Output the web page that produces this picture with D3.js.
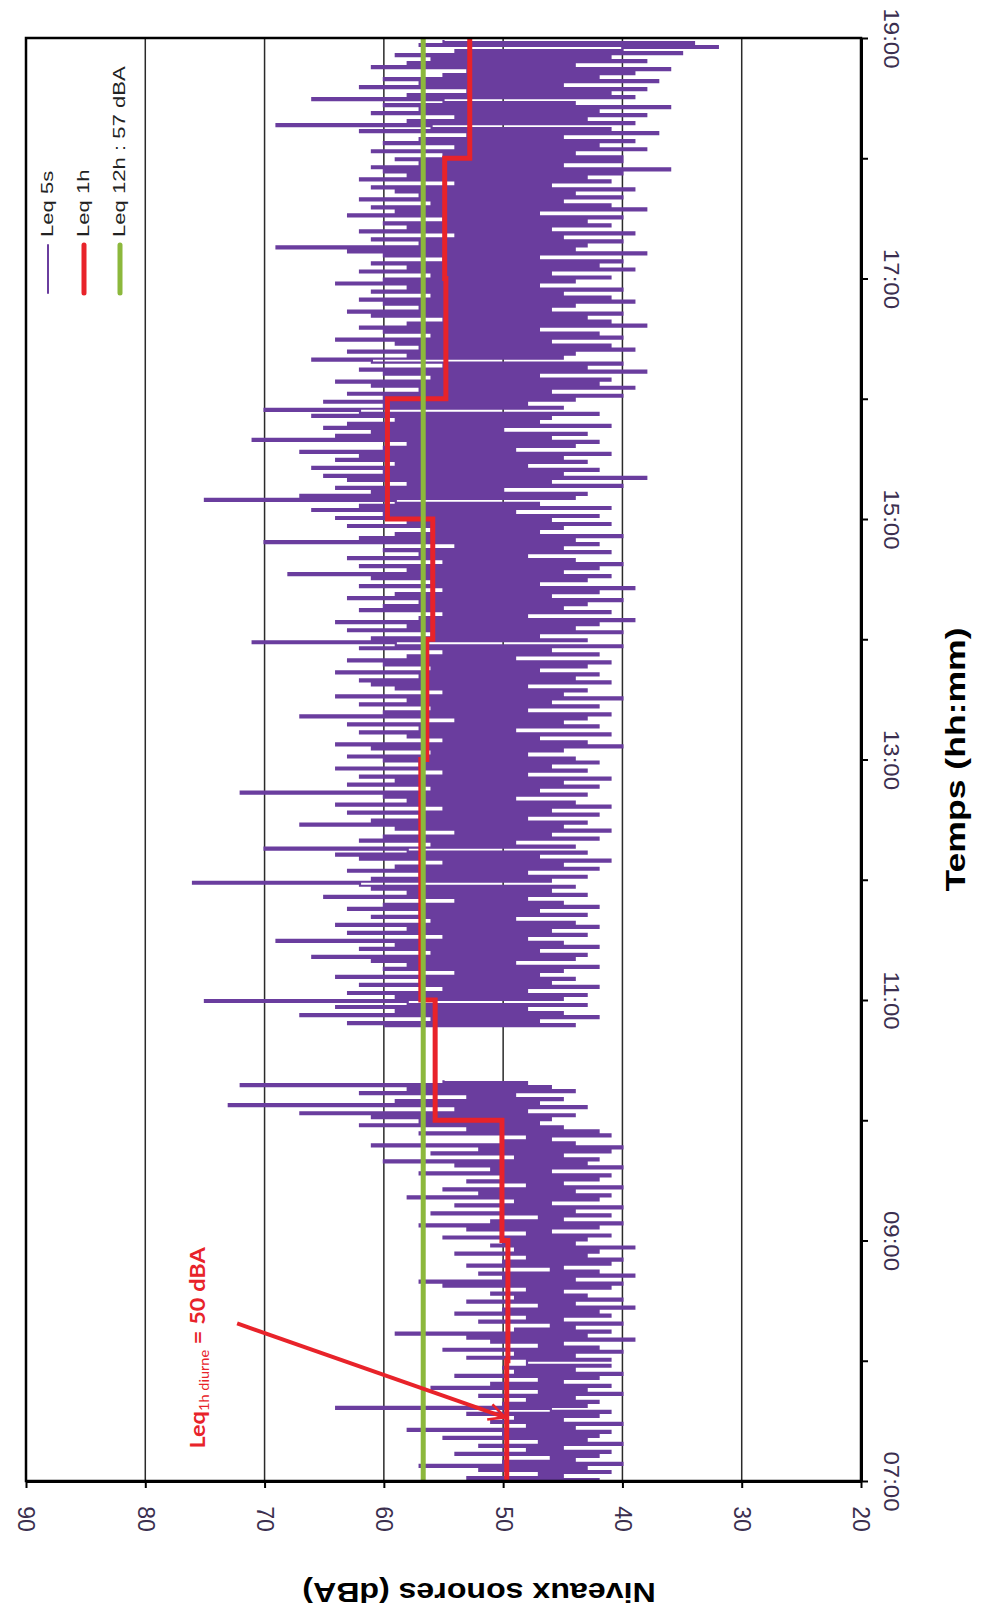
<!DOCTYPE html>
<html>
<head>
<meta charset="utf-8">
<script src="https://cdn.jsdelivr.net/npm/d3@7"></script>
<style>
body { margin: 0; background: #fff; }
svg { display: block; }
</style>
</head>
<body>
<svg id="chart"></svg>
<script>
// axis ticks
const dbTicks = [90, 80, 70, 60, 50, 40, 30, 20];
const hourTicks = [7, 8, 9, 10, 11, 12, 13, 14, 15, 16, 17, 18, 19];
const timeLabels = ["07:00", "", "09:00", "", "11:00", "", "13:00", "", "15:00", "", "17:00", "", "19:00"];

// Leq 5s (60 readings per hour, null = no data)
const h07 = [49,42,53,45,47,41,52,43,57,40,50,44,46,42,54,41,48,45,52,40,47,43,55,42,50,41,58,44,48,40,51,45,49,42,53,41,46,64,43,50,42,48,44,52,40,47,43,56,41,51,45,47,42,54,40,49,44,50,41,48];
const h08 = [48,41,53,44,49,40,55,42,47,45,51,39,53,43,59,41,49,44,46,40,52,45,48,41,54,42,50,39,47,44,53,40,49,43,51,45,48,41,55,40,57,44,50,39,52,42,46,45,53,41,50,40,48,43,54,42,49,39,51,44];
const h09 = [50,43,55,41,48,46,53,42,57,40,51,45,47,41,56,44,50,40,54,46,49,42,58,41,52,44,55,40,48,45,53,42,50,41,57,46,51,40,54,43,60,42,49,45,56,41,52,40,61,44,50,46,48,41,57,42,53,45,62,47];
const h10 = [57,46,61,44,67,48,54,43,73,47,59,45,53,49,62,44,58,46,72,48,55,
  null,null,null,null,null,null,null,null,null,null,null,null,null,null,null,null,null,null,null,null,null,null,null,null,null,null,
  60,44,63,47,56,42,67,45,59,48,64,43,58];
const h11 = [75,45,59,43,63,48,55,42,62,46,57,44,64,47,54,45,60,42,58,49,61,44,66,43,56,47,62,42,59,45,69,48,55,43,63,46,58,42,64,44,56,49,61,43,57,47,63,42,60,45,54,48,65,43,58,46,61,44,62,76];
const h12 = [46,61,43,57,48,63,42,59,45,55,41,62,47,64,43,58,70,44,56,49,62,42,60,46,54,41,59,45,67,43,61,48,57,42,63,46,55,41,64,44,58,49,60,43,72,47,56,42,63,45,59,41,62,48,55,43,64,46,57,42];
const h13 = [60,44,63,48,56,45,61,40,64,43,55,47,58,41,62,49,57,42,63,45,54,43,67,41,60,48,56,42,62,46,58,40,64,45,55,43,59,48,61,41,62,44,57,42,64,47,56,43,60,41,63,49,58,42,55,46,62,40,59,71];
const h14 = [43,61,47,56,40,63,44,58,42,64,39,57,48,55,41,62,45,60,43,57,40,63,46,59,42,55,39,62,47,56,43,61,41,68,45,58,42,62,40,55,44,63,48,57,41,60,45,54,42,70,44,62,40,59,47,56,45,63,41,58];
const h15 = [46,64,42,60,49,66,41,62,47,59,75,44,67,43,61,50,64,40,58,46,63,38,65,45,60,42,66,48,59,43,64,45,62,41,67,49,60,44,58,42,71,46,64,43,61,50,65,41,63,47,59,46,66,42,62,70,45,60,48,65];
const h16 = [44,60,40,63,46,57,39,61,42,64,41,56,47,60,38,62,43,55,40,61,66,45,58,44,63,39,57,41,59,46,64,40,56,42,60,47,62,38,58,41,55,43,61,40,63,46,57,44,60,39,62,41,56,45,61,40,58,47,64,44];
const h17 = [60,41,56,46,62,39,58,42,61,40,55,47,60,38,63,44,69,43,57,40,61,45,54,39,62,46,58,41,60,43,55,40,63,47,59,38,61,41,56,45,62,40,57,44,59,39,61,46,54,41,62,43,58,40,60,36,61,45,57,40];
const h18 = [59,40,55,44,61,38,54,42,60,39,57,45,53,37,62,41,56,69,39,58,43,54,38,61,42,57,36,60,44,55,66,39,58,41,53,38,62,45,57,37,60,42,55,39,53,36,61,44,58,38,56,41,59,35,54,40,32,57,34,55];

// Leq 1h, one value per hour 07..18
const leqHours = [7, 8, 9, 10, 11, 12, 13, 14, 15, 16, 17, 18];
const leq1h = [49.7, 49.6, 50.1, 55.7, 56.9, 56.9, 56.4, 55.9, 59.7, 54.8, 54.9, 52.8];
// Leq 12h
const leq12h = 56.7;

const legendLabels = ["Leq 5s", "Leq 1h", "Leq 12h : 57 dBA"];
const legendColors = ["#6a3d9e", "#e8232a", "#8cb83c"];

const W = 982, H = 1620;
const plot = { x0: 26, x1: 861, y0: 38, y1: 1481 };
const font = '"Liberation Sans", Arial, sans-serif';

const svg = d3.select('#chart').attr('width', W).attr('height', H);
svg.append('rect').attr('width', W).attr('height', H).attr('fill', '#fff');

// chart is turned a quarter: levels run along x, time runs up the page
const x = d3.scaleLinear().domain([90, 20]).range([plot.x0, plot.x1]);
const y = d3.scaleLinear().domain([7, 19]).range([plot.y1, plot.y0]);

// grid
svg.append('g').selectAll('line')
  .data(dbTicks.slice(1, -1))
  .join('line')
  .attr('x1', d => x(d)).attr('x2', d => x(d))
  .attr('y1', plot.y0).attr('y2', plot.y1)
  .attr('stroke', '#2a2a2a').attr('stroke-width', 1.5);

// Leq 5s trace
const hours = [h07, h08, h09, h10, h11, h12, h13, h14, h15, h16, h17, h18];
const trace = [];
hours.forEach((arr, k) => {
  arr.forEach((v, i) => trace.push({ t: 7 + k + i / arr.length, v: v }));
});

svg.append('path')
  .datum(trace)
  .attr('fill', 'none')
  .attr('stroke', legendColors[0])
  .attr('stroke-width', 2.2)
  .attr('d', d3.line()
    .defined(d => d.v != null)
    .curve(d3.curveStepAfter)
    .x(d => x(d.v))
    .y(d => y(d.t)));

// Leq 1h steps
const steps = leqHours.map((h, i) => ({ t: h, v: leq1h[i] }));
steps.push({ t: 19, v: leq1h[leq1h.length - 1] });

svg.append('path')
  .datum(steps)
  .attr('fill', 'none')
  .attr('stroke', legendColors[1])
  .attr('stroke-width', 5)
  .attr('d', d3.line().curve(d3.curveStepBefore).x(d => x(d.v)).y(d => y(d.t)));

// Leq 12h
svg.append('line')
  .attr('x1', x(leq12h)).attr('x2', x(leq12h))
  .attr('y1', y(7)).attr('y2', y(19))
  .attr('stroke', legendColors[2]).attr('stroke-width', 5);

// frame
svg.append('rect')
  .attr('x', plot.x0).attr('y', plot.y0)
  .attr('width', plot.x1 - plot.x0).attr('height', plot.y1 - plot.y0)
  .attr('fill', 'none').attr('stroke', '#000').attr('stroke-width', 2.5);

// level axis (bottom)
const xAxis = svg.append('g')
  .attr('transform', `translate(0,${plot.y1})`)
  .call(d3.axisBottom(x).tickValues(dbTicks).tickSize(7).tickSizeOuter(0).tickFormat(d3.format('d')));
xAxis.select('.domain').attr('stroke-width', 3);
xAxis.selectAll('.tick line').attr('stroke-width', 2);
xAxis.selectAll('.tick text')
  .attr('y', 0).attr('dy', '0.35em')
  .attr('transform', 'translate(0,38) rotate(90)')
  .attr('text-anchor', 'middle')
  .attr('font-size', 23).attr('font-family', font).attr('fill', '#3b2f4f');

// time axis (right)
const yAxis = svg.append('g')
  .attr('transform', `translate(${plot.x1},0)`)
  .call(d3.axisRight(y).tickValues(hourTicks).tickSize(7).tickSizeOuter(0).tickFormat((d, i) => timeLabels[i]));
yAxis.select('.domain').attr('stroke-width', 3);
yAxis.selectAll('.tick line').attr('stroke-width', 2);
yAxis.selectAll('.tick text')
  .attr('x', 0).attr('dy', '0.35em')
  .attr('transform', 'translate(31,0) rotate(90) scale(1.09,1)')
  .attr('text-anchor', 'middle')
  .attr('font-size', 22).attr('font-family', font).attr('fill', '#3b2f4f');

// axis titles
svg.append('text')
  .attr('transform', `translate(965,${(plot.y0 + plot.y1) / 2}) rotate(-90) scale(1.27,1)`)
  .attr('text-anchor', 'middle')
  .attr('font-family', font).attr('font-weight', 'bold').attr('font-size', 28)
  .text('Temps (hh:mm)');

svg.append('text')
  .attr('transform', `translate(479,1583) rotate(180) scale(1.19,1)`)
  .attr('text-anchor', 'middle')
  .attr('font-family', font).attr('font-weight', 'bold').attr('font-size', 27)
  .text('Niveaux sonores (dBA)');

// legend
const legend = svg.append('g').selectAll('g')
  .data(legendLabels)
  .join('g')
  .attr('transform', (d, i) => `translate(${48 + i * 36},0)`);
legend.append('line')
  .attr('y1', 245).attr('y2', 293)
  .attr('stroke', (d, i) => legendColors[i])
  .attr('stroke-width', (d, i) => i === 0 ? 2 : 5)
  .attr('stroke-linecap', 'round');
legend.append('text')
  .attr('transform', 'translate(5,237) rotate(-90) scale(1.3,1)')
  .attr('font-family', font).attr('font-size', 17).attr('fill', '#222')
  .text(d => d);

// annotation
const red = legendColors[1];
svg.append('defs').append('marker')
  .attr('id', 'arrow')
  .attr('viewBox', '0 0 10 10')
  .attr('refX', 9).attr('refY', 5)
  .attr('markerWidth', 5).attr('markerHeight', 5)
  .attr('orient', 'auto')
  .append('path')
  .attr('d', 'M1,1 L9,5 L1,9')
  .attr('fill', 'none').attr('stroke', red).attr('stroke-width', 1.3);

svg.append('line')
  .attr('x1', x(72.3)).attr('y1', y(8.31))
  .attr('x2', x(49.85)).attr('y2', y(7.53))
  .attr('stroke', red).attr('stroke-width', 4)
  .attr('marker-end', 'url(#arrow)');

const ann = svg.append('text')
  .attr('transform', `translate(${x(75.0)},${y(7.27)}) rotate(-90) scale(1.12,1)`)
  .attr('fill', red)
  .attr('font-family', 'Lato, "Open Sans", sans-serif')
  .attr('font-weight', 'bold').attr('font-size', 21);
ann.append('tspan').text('Leq');
ann.append('tspan').attr('dy', 4).attr('font-size', 13).attr('font-weight', 'normal').text('1h diurne');
ann.append('tspan').attr('dy', -4).text(' = 50 dBA');
</script>
</body>
</html>
